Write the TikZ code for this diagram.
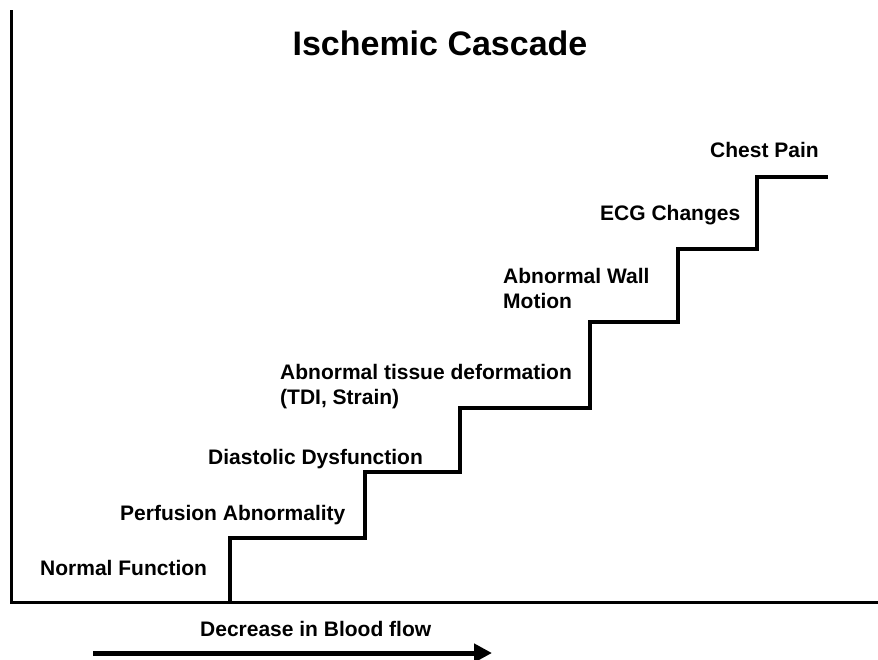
\documentclass[tikz,border=0pt]{standalone}
\usepackage{fontspec}
\setmainfont{Liberation Sans}
\usepackage{tikz}
\usetikzlibrary{arrows.meta}
\tikzset{
  lbl/.style={anchor=base west, inner sep=0pt, align=left,
    font=\bfseries\fontsize{21}{25}\selectfont},
  stair/.style={line width=4.5pt, line join=miter},
  axis/.style={line width=3pt}
}

\begin{document}
\begin{tikzpicture}[x=1pt, y=-1pt]
\useasboundingbox (0,0) rectangle (878,659);

% axes
\coordinate (top) at (11,10);
\coordinate (origin) at (11,602);
\coordinate (right) at (878,602);
\draw[axis] (top) -- (origin) -- (right);

\node[anchor=base, inner sep=0pt, font=\bfseries\fontsize{34}{40}\selectfont]
  (title) at (440,55) {Ischemic Cascade};

% the steps
\draw[stair] (230,602) -- (230,538) -- (365,538) -- (365,472)
  -- (460,472) -- (460,408) -- (590,408) -- (590,322)
  -- (678,322) -- (678,249) -- (757,249) -- (757,177) -- (828,177);

\node[lbl] (normal) at (40,575) {Normal Function};
\node[lbl] (perf) at (120,520) {Perfusion Abnormality};
\node[lbl] (diast) at (208,464) {Diastolic Dysfunction};
\node[lbl] (tissue) at (280,404) {Abnormal tissue deformation\\(TDI, Strain)};
\node[lbl] (wall) at (503,308) {Abnormal Wall\\Motion};
\node[lbl] (ecg) at (600,220) {ECG Changes};
\node[lbl] (pain) at (710,157) {Chest Pain};

% blood flow arrow
\node[lbl] (flow) at (200,636) {Decrease in Blood flow};
\coordinate (a) at (93,653);
\coordinate (b) at (492,653);
\draw[line width=5pt, -{Triangle[length=18pt, width=18pt]}] (a) -- (b);
\end{tikzpicture}
\end{document}
